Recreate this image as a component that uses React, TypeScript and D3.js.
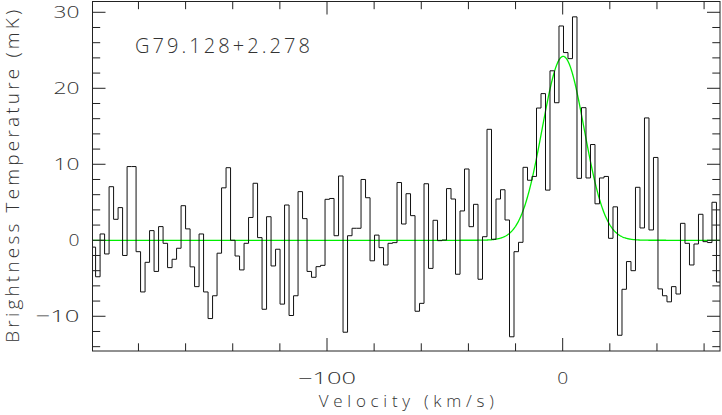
import React from "react";
import * as d3 from "d3";

// Spectrum channel values (mK), channel 1 starts at vStart km/s, each channel dv wide
const channelStart = [-200.1];
const channelWidth = [1.909];
const brightness = [
  -0.9, -4.8, 0.83, -1.8, 7.05, 2.76, 4.3, -2.0, 9.7, 9.7,
  -1.5, -6.8, -2.9, 1.27, -4.1, 1.8, -0.4, -3.6, -2.5, -1.05,
  4.55, 1.5, -3.5, -6.1, 0.83, -6.8, -10.3, -7.3, -1.7, 6.9,
  9.55, 0.0, -2.07, -3.9, -0.4, 3.0, 7.5, 0.35, -9.08, 3.1,
  -3.38, -1.18, -8.4, 4.64, -9.9, -7.3, 6.4, 2.85, -4.1, -4.87,
  -3.47, -3.3, 5.39, 5.5, 0.6, 8.46, -12.1, 0.6, 1.58, 1.58,
  8.0, 5.6, -2.7, 0.68, -0.97, -3.25, -0.4, -0.31, 7.6, 2.14,
  6.13, 3.24, -9.34, -8.3, 7.44, -3.7, 2.63, -0.05, 0.03, 6.8,
  5.43, -4.47, 3.86, 9.38, 1.79, 4.73, -5.13, 0.47, 14.6, 0.13,
  5.43, 6.65, 2.67, -12.7, -1.5, -0.27, 9.6, 7.9, 8.4, 17.4,
  19.3, 6.6, 22.3, 18.1, 28.2, 24.7, 23.9, 29.4, 8.15, 17.45,
  8.2, 12.6, 4.8, 8.2, 8.4, 0.26, 4.4, -12.5, -6.45, -2.8,
  -4.0, 6.97, 1.62, 16.1, 1.36, 10.9, -6.4, -7.3, -8.1, -6.1,
  -7.07, 2.23, -0.4, -3.25, -0.49, 3.42, -0.18, -0.3, 5.0, -5.5,
];
// Gaussian fit: amplitude (mK), centre (km/s), sigma (km/s)
const fitParams = [24.2, 0.2, 8.9];

const xDomain = [-199.5, 66.75];
const yDomain = [-14.57, 31.42];
const xMajorTicks = [-100, 0];
const xTickLabels = ["\u2212100", "0"];
const xTickWidths = [58, 11];
const yMajorTicks = [-10, 0, 10, 20, 30];
const yTickLabels = ["\u221210", "0", "10", "20", "30"];
const yTickWidths = [44, 11, 26, 26, 26];
const sourceName = "G79.128+2.278";
const xTitle = "Velocity (km/s)";
const yTitle = "Brightness Temperature (mK)";

const FONT = "'Open Sans', 'DejaVu Sans', sans-serif";

export default function App() {
  const W = 722, H = 415;
  const L = 92.5, R = 720, T = 1.5, B = 351;
  const x = d3.scaleLinear().domain(xDomain).range([L, R]);
  const y = d3.scaleLinear().domain(yDomain).range([B, T]);

  const v0 = channelStart[0], dv = channelWidth[0];
  const pts: [number, number][] = brightness.map((b, i) => [v0 + i * dv, b]);
  pts.push([v0 + brightness.length * dv, brightness[brightness.length - 1]]);
  const stepLine = d3
    .line<[number, number]>()
    .x((d) => x(d[0]))
    .y((d) => y(d[1]))
    .curve(d3.curveStepAfter);

  const [amp, cen, sig] = fitParams;
  const fitV = d3.range(xDomain[0], xDomain[1] + 0.01, 0.25);
  const fitLine = d3
    .line<number>()
    .x((v) => x(v))
    .y((v) => y(amp * Math.exp(-((v - cen) ** 2) / (2 * sig * sig))));

  const xMinor = d3.range(-180, 66, 20).filter((v) => !xMajorTicks.includes(v));
  const yMinor = d3.range(-14, 31, 2).filter((v) => !yMajorTicks.includes(v));
  const majLen = 13, minLen = 7.7;
  const axisColor = "#222";

  return (
    <svg
      width={W}
      height={H}
      style={{ position: "absolute", left: 0, top: 0, background: "#fff" }}
    >
      <defs>
        <clipPath id="plotclip">
          <rect x={L} y={T} width={R - L} height={B - T} />
        </clipPath>
      </defs>
      <g clipPath="url(#plotclip)">
        <path
          d={fitLine(fitV) || ""}
          fill="none"
          stroke="#00ee00"
          strokeWidth={1.3}
        />
        <path
          d={stepLine(pts) || ""}
          fill="none"
          stroke="#111"
          strokeWidth={1}
        />
      </g>
      {/* frame */}
      <rect
        x={L}
        y={T}
        width={R - L}
        height={B - T}
        fill="none"
        stroke={axisColor}
        strokeWidth={1}
      />
      {/* x ticks bottom & top */}
      {xMajorTicks.map((v) => (
        <g key={"xM" + v}>
          <line x1={x(v)} x2={x(v)} y1={B} y2={B - majLen} stroke={axisColor} />
          <line x1={x(v)} x2={x(v)} y1={T} y2={T + majLen} stroke={axisColor} />
        </g>
      ))}
      {xMinor.map((v) => (
        <g key={"xm" + v}>
          <line x1={x(v)} x2={x(v)} y1={B} y2={B - minLen} stroke={axisColor} />
          <line x1={x(v)} x2={x(v)} y1={T} y2={T + minLen} stroke={axisColor} />
        </g>
      ))}
      {/* y ticks left & right */}
      {yMajorTicks.map((v) => (
        <g key={"yM" + v}>
          <line x1={L} x2={L + majLen} y1={y(v)} y2={y(v)} stroke={axisColor} />
          <line x1={R} x2={R - majLen} y1={y(v)} y2={y(v)} stroke={axisColor} />
        </g>
      ))}
      {yMinor.map((v) => (
        <g key={"ym" + v}>
          <line x1={L} x2={L + minLen} y1={y(v)} y2={y(v)} stroke={axisColor} />
          <line x1={R} x2={R - minLen} y1={y(v)} y2={y(v)} stroke={axisColor} />
        </g>
      ))}
      {/* tick labels */}
      {xMajorTicks.map((v, i) => (
        <text
          key={"xl" + v}
          x={x(v)}
          y={383.5}
          textAnchor="middle"
          fontFamily={FONT}
          fontWeight={300}
          fontSize={16.5}
          fill="#333"
          textLength={xTickWidths[i]}
          lengthAdjust="spacingAndGlyphs"
        >
          {xTickLabels[i]}
        </text>
      ))}
      {yMajorTicks.map((v, i) => (
        <text
          key={"yl" + v}
          x={79.5}
          y={y(v) + 6.2}
          textAnchor="end"
          fontFamily={FONT}
          fontWeight={300}
          fontSize={17}
          fill="#333"
          textLength={yTickWidths[i]}
          lengthAdjust="spacingAndGlyphs"
        >
          {yTickLabels[i]}
        </text>
      ))}
      {/* titles */}
      <text
        x={(L + R) / 2}
        y={406.5}
        textAnchor="middle"
        fontFamily={FONT}
        fontWeight={300}
        fontSize={17}
        fill="#333"
        textLength={175}
        lengthAdjust="spacing"
      >
        {xTitle}
      </text>
      <text
        transform={`translate(18.5, ${(T + B) / 2}) rotate(-90)`}
        x={0}
        y={0}
        textAnchor="middle"
        fontFamily={FONT}
        fontWeight={300}
        fontSize={19}
        fill="#333"
        textLength={333}
        lengthAdjust="spacing"
      >
        {yTitle}
      </text>
      <text
        x={135}
        y={53}
        fontFamily={FONT}
        fontWeight={300}
        fontSize={20}
        fill="#333"
        textLength={175}
        lengthAdjust="spacing"
      >
        {sourceName}
      </text>
    </svg>
  );
}
